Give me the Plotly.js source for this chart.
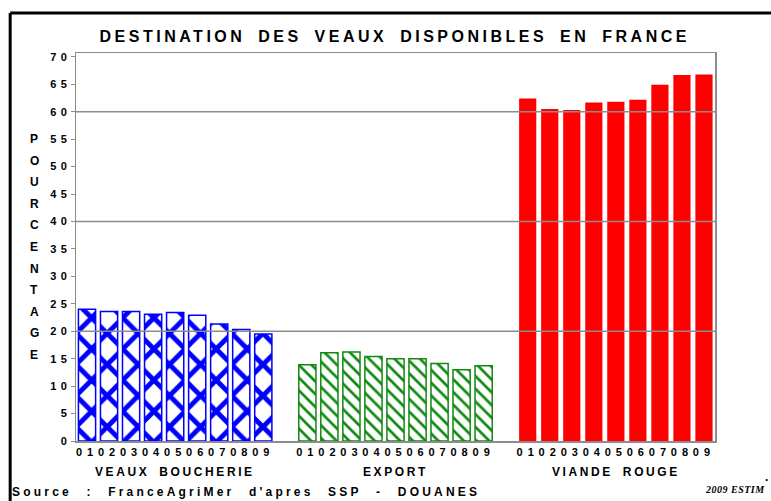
<!DOCTYPE html>
<html>
<head>
<meta charset="utf-8">
<script src="https://cdn.plot.ly/plotly-3.0.1.min.js"></script>
<style>
  body { margin: 0; background: #fff; }
  #plot { width: 771px; height: 501px; }
  .xtick text { letter-spacing: 5px; }
  .ytick text { letter-spacing: 4.4px; }
  .gtitle { letter-spacing: 3.5px; word-spacing: 5px; }
</style>
</head>
<body>
<div id="plot"></div>
<script>
// annees 2001 a 2009 (2009 estime)
var years = ['01', '02', '03', '04', '05', '06', '07', '08', '09'];
var groups = ['VEAUX BOUCHERIE', 'EXPORT', 'VIANDE ROUGE'];

var veauxBoucherie = [24.0, 23.6, 23.6, 23.1, 23.4, 22.9, 21.3, 20.3, 19.5];
var exportVeaux = [13.9, 16.1, 16.2, 15.4, 15.0, 15.0, 14.1, 13.0, 13.7];
var viandeRouge = [62.4, 60.5, 60.3, 61.7, 61.8, 62.2, 64.9, 66.7, 66.8];

var yTicks = [0, 5, 10, 15, 20, 25, 30, 35, 40, 45, 50, 55, 60, 65, 70];
var gridVals = [20, 40, 60];

var yLabel = 'POURCENTAGE';

// one empty slot between groups
function slots(offset) {
    return years.map(function (y, i) { return i + offset; });
}

function spaced(txt, ls, ws) {
    return '<span style="letter-spacing:' + ls + 'px;word-spacing:' + ws + 'px">' + txt + '</span>';
}

var trace1 = {
    x: slots(0),
    y: veauxBoucherie,
    type: 'bar',
    width: 0.78,
    name: groups[0],
    marker: {
        color: '#ffffff',
        line: { color: '#0000ff', width: 1.5 },
        // cell = one slot wide so the crosses sit on the bar centres
        pattern: { shape: 'x', fgcolor: '#0000ff', bgcolor: '#ffffff', size: 22.03, solidity: 0.4 }
    }
};

var trace2 = {
    x: slots(10),
    y: exportVeaux,
    type: 'bar',
    width: 0.78,
    name: groups[1],
    marker: {
        color: '#ffffff',
        line: { color: '#118a11', width: 1.5 },
        pattern: { shape: '\\', fgcolor: '#118a11', bgcolor: '#ffffff', size: 9, solidity: 0.3 }
    }
};

var trace3 = {
    x: slots(20),
    y: viandeRouge,
    type: 'bar',
    width: 0.78,
    name: groups[2],
    marker: { color: '#ff0000', line: { width: 0 } }
};

var tickvals = slots(0).concat(slots(10), slots(20));
var ticktext = years.concat(years, years);

var shapes = gridVals.map(function (v) {
    return {
        type: 'line', xref: 'paper', yref: 'y', x0: 0, x1: 1, y0: v, y1: v,
        layer: 'above', line: { color: '#8c8c8c', width: 1.5 }
    };
});
// black frame lines (top and left)
shapes.push({ type: 'line', xref: 'paper', yref: 'paper', x0: -0.103, x1: 1.2, y0: 1.103, y1: 1.103,
    line: { color: '#000', width: 3 } });
shapes.push({ type: 'line', xref: 'paper', yref: 'paper', x0: -0.103, x1: -0.103, y0: 1.103, y1: -0.3,
    line: { color: '#000', width: 3 } });

var bold = { family: 'Liberation Sans, Arial, sans-serif', size: 12, color: '#000', weight: 'bold' };

var annotations = groups.map(function (g, i) {
    return {
        text: spaced(g, 2.6, 4), x: i * 10 + 4, xref: 'x', y: 0, yref: 'paper',
        yanchor: 'top', yshift: -22, showarrow: false, font: bold
    };
});

yLabel.split('').forEach(function (c, i) {
    annotations.push({
        text: c, x: -0.065, xref: 'paper', y: (441 - (139 + i * 21.6)) / 388, yref: 'paper',
        xanchor: 'center', yanchor: 'middle', showarrow: false,
        font: { family: bold.family, size: 12, color: '#000', weight: 'bold' }
    });
});

annotations.push({
    text: spaced("Source : FranceAgriMer d'apres SSP - DOUANES", 3.2, 8),
    x: 0.266, xref: 'paper', xanchor: 'center',
    y: 0, yref: 'paper', yanchor: 'middle', yshift: -51,
    showarrow: false, font: bold
});
annotations.push({
    text: spaced('2009 ESTIM', 0.5, 0),
    x: 1.032, xref: 'paper', xanchor: 'center',
    y: 0, yref: 'paper', yanchor: 'middle', yshift: -48,
    showarrow: false,
    font: { family: 'Liberation Serif, serif', size: 10, color: '#000', weight: 'bold', style: 'italic' }
});
annotations.push({
    text: '.', x: 1.081, xref: 'paper', xanchor: 'center',
    y: 0, yref: 'paper', yanchor: 'middle', yshift: -36,
    showarrow: false, font: bold
});

var layout = {
    width: 771,
    height: 501,
    margin: { l: 76, r: 56, t: 53, b: 60 },
    paper_bgcolor: '#ffffff',
    plot_bgcolor: '#ffffff',
    showlegend: false,
    title: {
        text: 'DESTINATION DES VEAUX DISPONIBLES EN FRANCE',
        font: { family: bold.family, size: 16, color: '#000', weight: 'bold' },
        x: 0.512, xref: 'container', xanchor: 'center',
        y: 0.928, yref: 'container', yanchor: 'middle'
    },
    xaxis: {
        range: [-0.5, 28.5],
        tickmode: 'array',
        tickvals: tickvals,
        ticktext: ticktext,
        ticks: '',
        ticklabelshift: 2.5,
        showgrid: false,
        zeroline: false,
        showline: true,
        linecolor: '#8c8c8c',
        linewidth: 1.5,
        mirror: true,
        tickfont: { family: bold.family, size: 11, color: '#000', weight: 'bold' }
    },
    yaxis: {
        range: [0, 70.7],
        tickmode: 'array',
        tickvals: yTicks,
        ticks: 'outside',
        ticklen: 4,
        tickcolor: '#8c8c8c',
        ticklabelstandoff: -3,
        showgrid: false,
        zeroline: false,
        showline: true,
        linecolor: '#8c8c8c',
        linewidth: 1.5,
        mirror: true,
        tickfont: { family: bold.family, size: 11, color: '#000', weight: 'bold' }
    },
    shapes: shapes,
    annotations: annotations
};

Plotly.newPlot('plot', [trace1, trace2, trace3], layout, { displayModeBar: false, staticPlot: true });
</script>
</body>
</html>
